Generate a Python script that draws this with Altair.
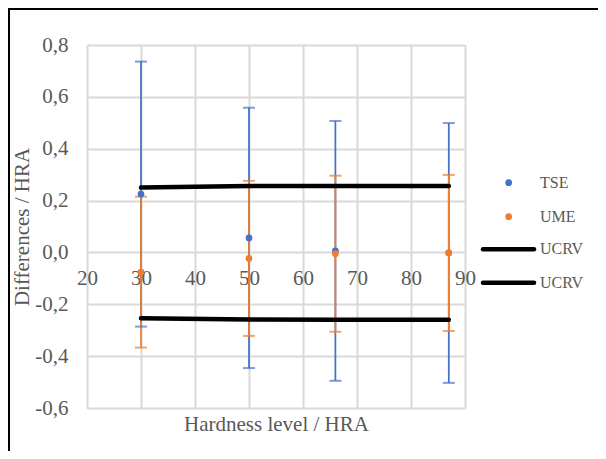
import altair as alt
import pandas as pd

# ---- data ----
hardness = [30, 50, 66, 87]
tse_mean = [0.225, 0.056, 0.006, -0.002]
tse_err = [0.511, 0.502, 0.501, 0.501]
ume_mean = [-0.076, -0.023, -0.005, -0.002]
ume_err = [0.291, 0.299, 0.301, 0.301]
ucrv_upper = [0.250, 0.256, 0.256, 0.256]
ucrv_lower = [-0.254, -0.259, -0.260, -0.260]

x_ticks = [20, 30, 40, 50, 60, 70, 80, 90]
y_ticks = [-0.6, -0.4, -0.2, 0, 0.2, 0.4, 0.6, 0.8]
series_names = ["TSE", "UME"]
line_name = "UCRV"

BLUE = "#4472C4"
ORANGE = "#ED7D31"
GRID = "#D9D9D9"
TEXT = "#595959"
FONT = "Liberation Serif, Times New Roman, serif"

W, H = 378, 363
PAD = {"left": 79, "top": 37, "right": 133, "bottom": 43}

df = pd.DataFrame({
    "x": hardness * 2,
    "series": [series_names[0]] * 4 + [series_names[1]] * 4,
    "mean": tse_mean + ume_mean,
    "err": tse_err + ume_err,
})
df["lo"] = df["mean"] - df["err"]
df["hi"] = df["mean"] + df["err"]

df_lines = pd.DataFrame({
    "x": hardness * 2,
    "y": ucrv_upper + ucrv_lower,
    "which": ["upper"] * 4 + ["lower"] * 4,
})

xs = alt.Scale(domain=[20, 90], nice=False, zero=False)
ys = alt.Scale(domain=[-0.6, 0.8], nice=False, zero=False)
cs = alt.Scale(domain=series_names, range=[BLUE, ORANGE])

zero_pos = H * 0.8 / 1.4

# grid + titles layer
grid_layer = alt.Chart(df).mark_point(opacity=0).encode(
    x=alt.X("x:Q", scale=xs, axis=alt.Axis(
        orient="bottom",
        values=x_ticks, grid=True, gridColor=GRID, gridWidth=2,
        labels=False, ticks=False, domain=False,
        title="Hardness level / HRA", titleFont=FONT, titleFontSize=21,
        titleFontWeight="normal", titleColor=TEXT, titlePadding=5)),
    y=alt.Y("mean:Q", scale=ys, axis=alt.Axis(
        orient="left",
        values=y_ticks, grid=True, gridColor=GRID, gridWidth=2,
        ticks=False, domain=False, labelFlush=False,
        labelExpr="(datum.value < -1e-9 ? '-' : '') + replace(format(abs(datum.value), '.1f'), '.', ',')",
        labelFont=FONT, labelFontSize=21, labelFontWeight="normal",
        labelColor=TEXT, labelPadding=19,
        title="Differences / HRA", titleFont=FONT, titleFontSize=21,
        titleFontWeight="normal", titleColor=TEXT,
        titleX=-65, titleY=H / 2, titleAlign="center", titleBaseline="middle")),
)

# x labels crossing at y = 0
label_layer = alt.Chart(df).mark_point(opacity=0).encode(
    x=alt.X("x:Q", scale=xs, axis=alt.Axis(
        orient="bottom",
        values=x_ticks, grid=False, ticks=False, domain=False,
        labelFlush=False, labelOverlap=False,
        labelFont=FONT, labelFontSize=21, labelFontWeight="normal",
        labelColor=TEXT, labelPadding=15,
        offset=-(H - zero_pos), title=None)),
    y=alt.Y("mean:Q", scale=ys, axis=None),
)

bars = alt.Chart(df).mark_rule(strokeWidth=1.75).encode(
    x=alt.X("x:Q", scale=xs, axis=None),
    y=alt.Y("lo:Q", scale=ys, axis=None),
    y2="hi:Q",
    color=alt.Color("series:N", scale=cs, legend=None),
)
caps_hi = alt.Chart(df).mark_tick(orient="horizontal", size=12, thickness=2).encode(
    x=alt.X("x:Q", scale=xs, axis=None),
    y=alt.Y("hi:Q", scale=ys, axis=None),
    color=alt.Color("series:N", scale=cs, legend=None),
)
caps_lo = alt.Chart(df).mark_tick(orient="horizontal", size=12, thickness=2).encode(
    x=alt.X("x:Q", scale=xs, axis=None),
    y=alt.Y("lo:Q", scale=ys, axis=None),
    color=alt.Color("series:N", scale=cs, legend=None),
)
points = alt.Chart(df).mark_circle(size=45, opacity=1).encode(
    x=alt.X("x:Q", scale=xs, axis=None),
    y=alt.Y("mean:Q", scale=ys, axis=None),
    color=alt.Color("series:N", scale=cs, legend=None),
)
lines = alt.Chart(df_lines).mark_line(color="black", strokeWidth=4.5, strokeCap="round").encode(
    x=alt.X("x:Q", scale=xs, axis=None),
    y=alt.Y("y:Q", scale=ys, axis=None),
    detail="which:N",
)

# manual legend
legend_layers = []
for name, col, ly in [(series_names[0], BLUE, 137.7), (series_names[1], ORANGE, 171.7)]:
    d = pd.DataFrame({"label": [name]})
    legend_layers.append(alt.Chart(d).mark_circle(size=45, opacity=1, color=col).encode(
        x=alt.value(421.7), y=alt.value(ly)))
    legend_layers.append(alt.Chart(d).mark_text(
        align="left", baseline="middle", font=FONT, fontSize=16, fontWeight="normal",
        color=TEXT).encode(x=alt.value(453), y=alt.value(ly), text="label:N"))
for ly in [204.3, 237.7]:
    d = pd.DataFrame({"label": [line_name]})
    legend_layers.append(alt.Chart(d).mark_rule(color="black", strokeWidth=4.5, strokeCap="round").encode(
        x=alt.value(396), x2=alt.value(447), y=alt.value(ly)))
    legend_layers.append(alt.Chart(d).mark_text(
        align="left", baseline="middle", font=FONT, fontSize=16, fontWeight="normal",
        color=TEXT).encode(x=alt.value(453), y=alt.value(ly), text="label:N"))

# chart border (top and left)
bd = pd.DataFrame({"k": [0]})
border_top = alt.Chart(bd).mark_rule(color="black", strokeWidth=2).encode(
    x=alt.value(-PAD["left"]), x2=alt.value(W + PAD["right"]), y=alt.value(-PAD["top"] + 1))
border_left = alt.Chart(bd).mark_rule(color="black", strokeWidth=2).encode(
    x=alt.value(-PAD["left"] + 1), y=alt.value(-PAD["top"]), y2=alt.value(H + PAD["bottom"]))

chart = alt.layer(
    grid_layer, label_layer, bars, caps_hi, caps_lo, points, lines,
    *legend_layers, border_top, border_left,
).resolve_axis(x="independent", y="independent").properties(
    width=W, height=H,
    autosize=alt.AutoSizeParams(type="none"),
    padding=PAD,
).configure_view(stroke=None).configure(
    background="white", font=FONT
).configure_axis(labelFont=FONT, titleFont=FONT).configure_text(font=FONT)

chart.save("out.html", embed_options={"renderer": "svg", "actions": False})
